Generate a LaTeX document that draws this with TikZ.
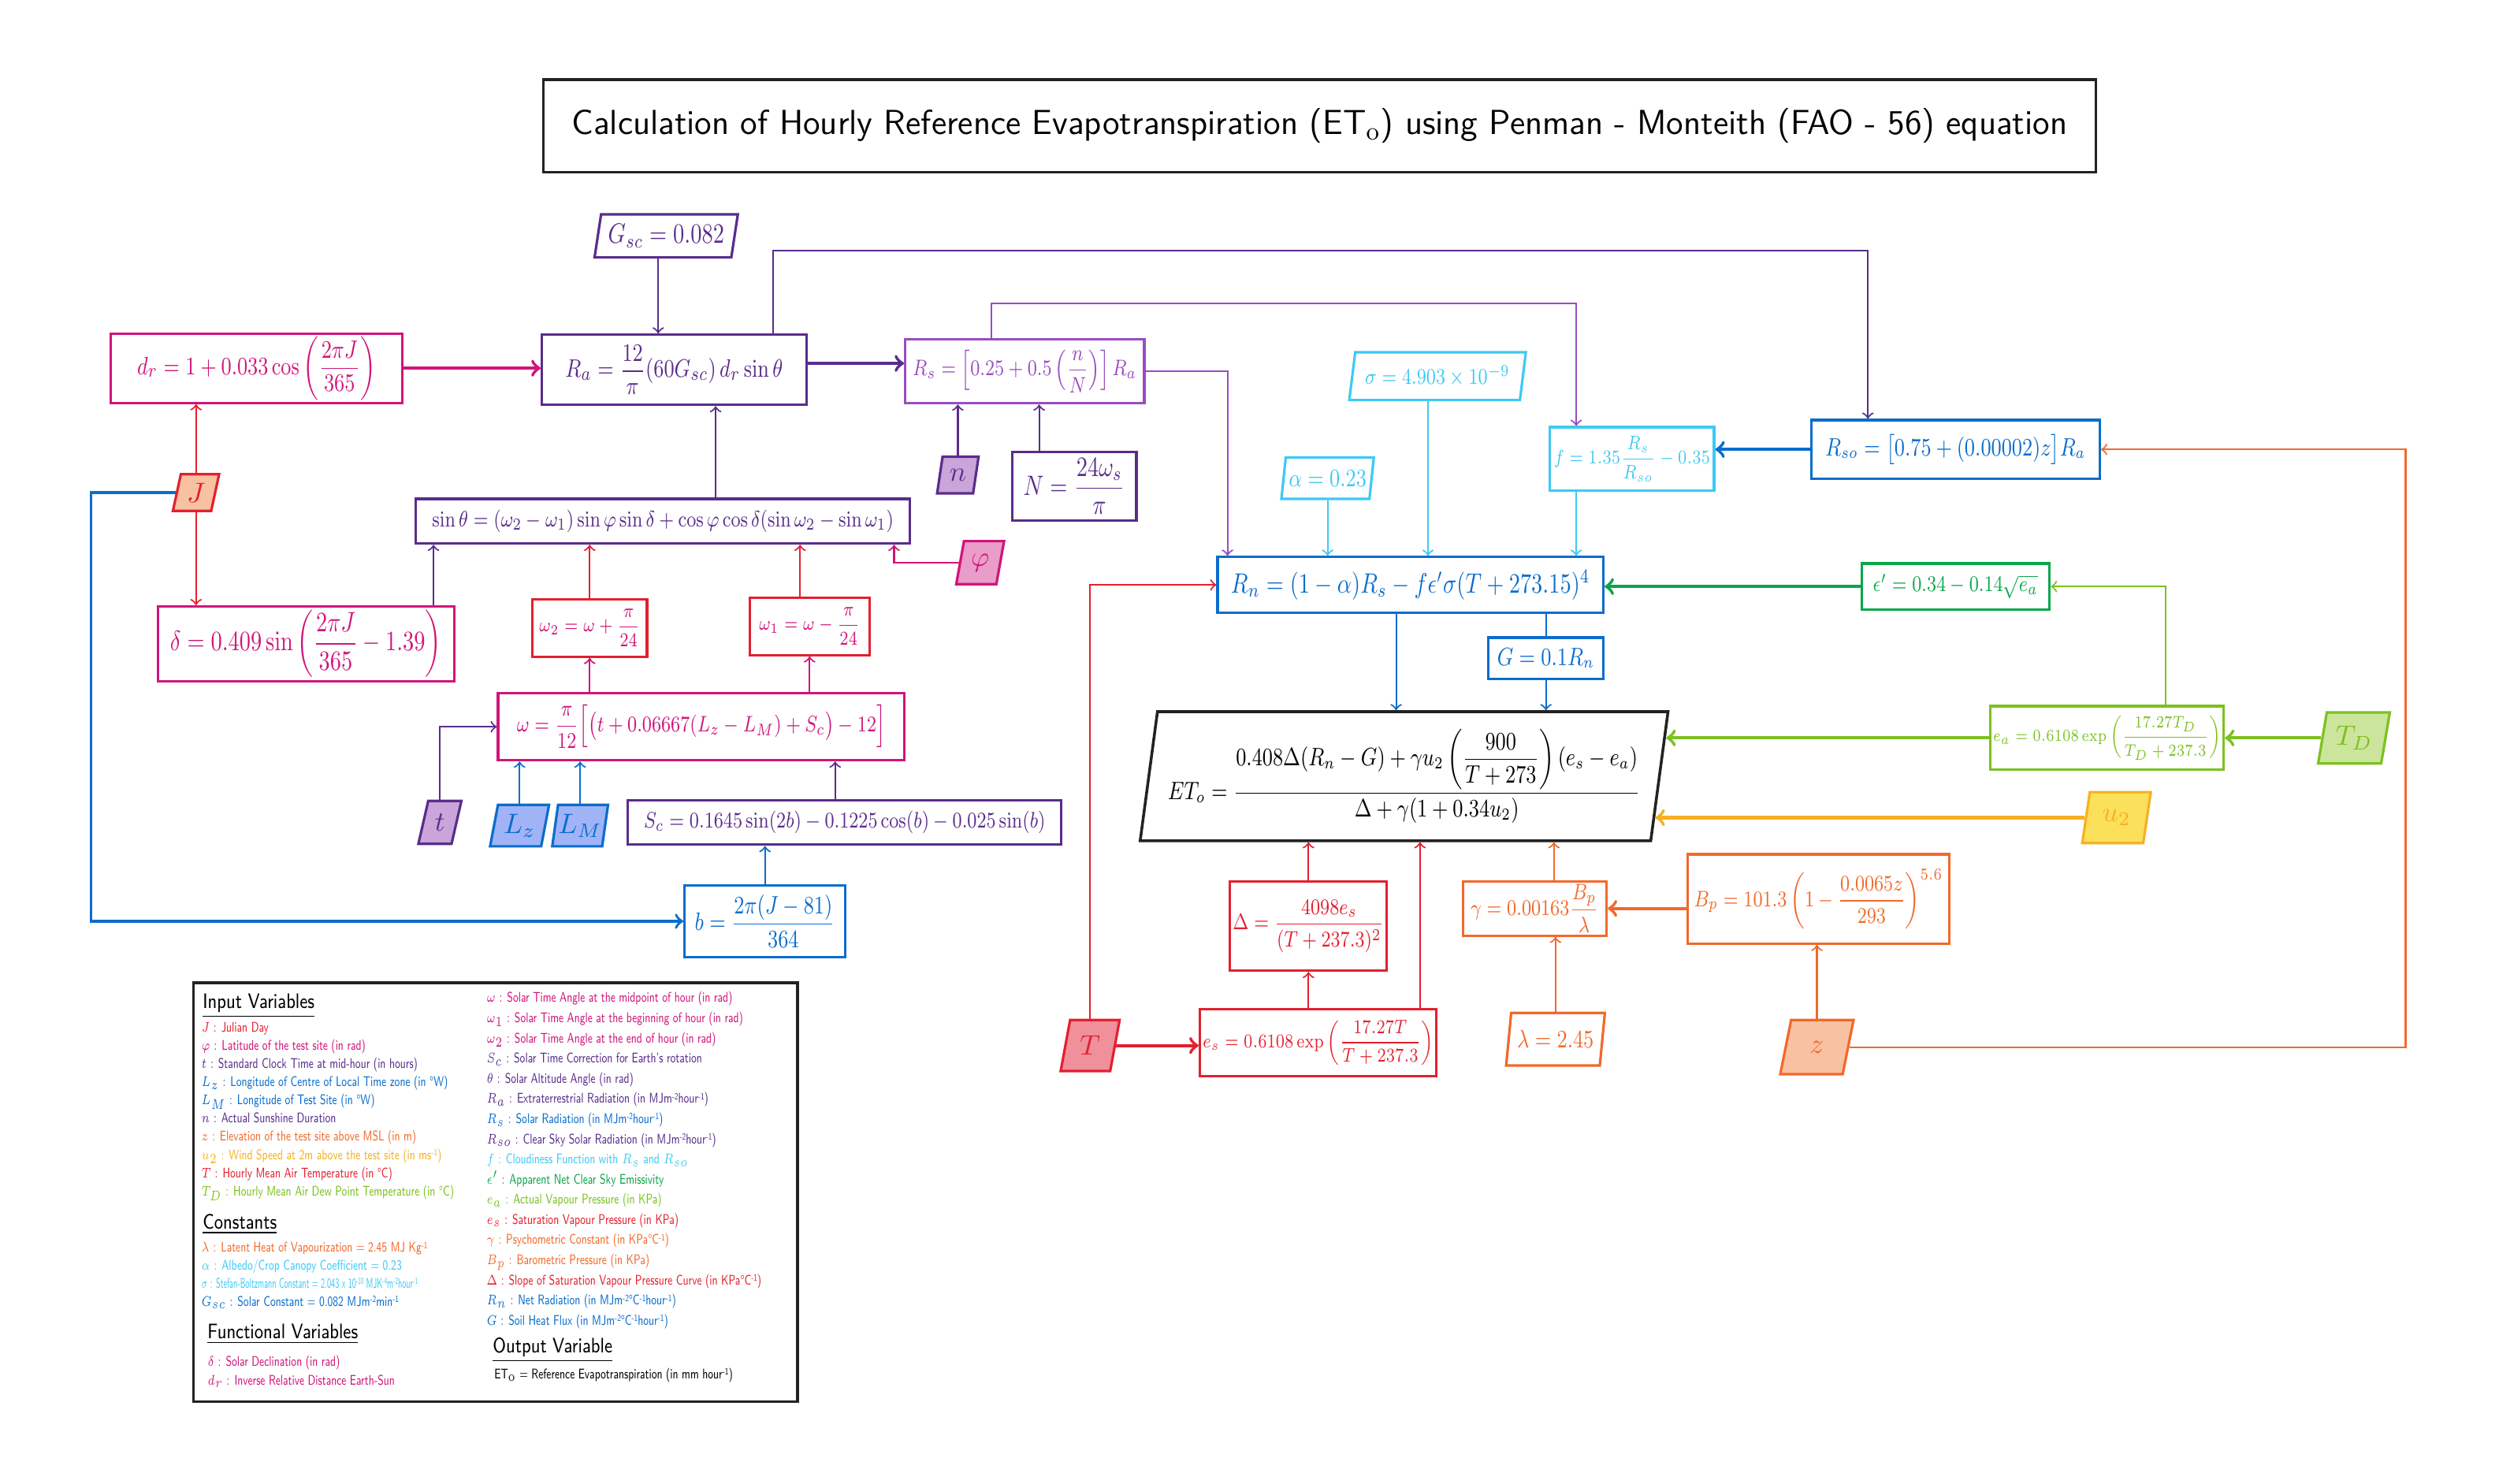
\documentclass[tikz,border=0pt]{standalone}
\usepackage{amsmath}
\usepackage{amssymb}
\usepackage{graphicx}
\usetikzlibrary{shapes.geometric,positioning}

\renewcommand{\familydefault}{\sfdefault}
\newcommand{\cond}[1]{\scalebox{0.8}[1]{#1}}
\newcommand{\pw}[1]{\raisebox{1.3pt}{\fontsize{3.4}{3.4}\selectfont #1}}

\definecolor{ink}{HTML}{222222}
\definecolor{crim}{HTML}{D0157A}
\definecolor{redd}{HTML}{E3202F}
\definecolor{purd}{HTML}{5A2D8C}
\definecolor{purm}{HTML}{9A4CC2}
\definecolor{purl}{HTML}{C9A5D9}
\definecolor{blu}{HTML}{0A6DCC}
\definecolor{blul}{HTML}{A1B3F7}
\definecolor{cyn}{HTML}{3EC9F4}
\definecolor{grn}{HTML}{0BA64A}
\definecolor{lim}{HTML}{7CC11F}
\definecolor{liml}{HTML}{CCE59D}
\definecolor{yel}{HTML}{F6B022}
\definecolor{yell}{HTML}{FBE05B}
\definecolor{orn}{HTML}{F2692B}
\definecolor{peach}{HTML}{F8C1A2}
\definecolor{pinkl}{HTML}{E99DC8}
\definecolor{redl}{HTML}{F0909B}

\begin{document}
\begin{tikzpicture}[x=0.02cm,y=-0.02cm,>=to,
  eq/.style={draw=#1,text=#1,rectangle,line width=0.9pt,fill=white,align=center,inner sep=1pt},
  var/.style 2 args={trapezium,trapezium left angle=76,trapezium right angle=104,trapezium stretches=true,
    draw=#1,text=#1,fill=#2,line width=0.9pt,inner sep=0pt,font=\normalsize},
  sz/.style 2 args={minimum width=#1*0.02cm,minimum height=#2*0.02cm},
  fs/.style={font=\fontsize{#1}{#1}\selectfont},
  wire/.style={->,line width=0.6pt},
  bus/.style={->,line width=1.2pt},
  leghead/.style={anchor=west,inner sep=0pt,xscale=0.8,font=\fontsize{7.5}{9}\selectfont},
  legtxt/.style={anchor=north west,align=left,inner sep=0pt,xscale=0.72,font=\fontsize{5}{#1}\selectfont}]
\useasboundingbox (0,0) rectangle (1568,931);

% title
\node[draw=ink,line width=1pt,sz={974}{58},fs=12.4] (title) at (828,79)
  {Calculation of Hourly Reference Evapotranspiration (ET$_\mathrm{o}$) using Penman - Monteith (FAO - 56) equation};

% radiation side
\node[var={purd}{white},sz={90}{27},fs=10] (gsc) at (418,148) {\cond{$G_{sc}=0.082$}};
\node[eq=crim,sz={183}{42},fs=9.5] (dr) at (161,231) {\cond{$d_r=1+0.033\cos\left(\dfrac{2\pi J}{365}\right)$}};
\node[eq=purd,sz={166}{44},fs=9.5] (ra) at (423,232) {\cond{$R_a=\dfrac{12}{\pi}(60G_{sc})\,d_r\sin\theta$}};
\node[eq=purm,sz={150}{40},fs=8] (rs) at (643,233) {\cond{$R_s=\left[0.25+0.5\left(\dfrac{n}{N}\right)\right]R_a$}};
\node[var={purd}{purl},sz={26}{23}] (nin) at (601,298) {$n$};
\node[eq=purd,sz={78}{43},fs=10] (nn) at (674,305) {\cond{$N=\dfrac{24\omega_s}{\pi}$}};
\node[var={redd}{peach},sz={29}{23}] (jin) at (123,309) {$J$};
\node[eq=purd,sz={310}{28},fs=8] (sinth) at (416,327)
  {\cond{$\sin\theta=(\omega_2-\omega_1)\sin\varphi\sin\delta+\cos\varphi\cos\delta(\sin\omega_2-\sin\omega_1)$}};
\node[var={crim}{pinkl},sz={30}{27}] (phin) at (615,353) {$\varphi$};
\node[eq=crim,sz={186}{47},fs=10] (delta) at (192,404) {\cond{$\delta=0.409\sin\left(\dfrac{2\pi J}{365}-1.39\right)$}};
\node[eq=redd,text=crim,sz={72}{36},fs=7.5] (om2) at (370,394) {\cond{$\omega_2=\omega+\dfrac{\pi}{24}$}};
\node[eq=redd,text=crim,sz={75}{36},fs=7.5] (om1) at (508,393) {\cond{$\omega_1=\omega-\dfrac{\pi}{24}$}};
\node[eq=crim,sz={255}{42},fs=8.5] (om) at (440,456)
  {\cond{$\omega=\dfrac{\pi}{12}\Bigl[\bigl(t+0.06667(L_z-L_M)+S_c\bigr)-12\Bigr]$}};
\node[var={purd}{purl},sz={27}{27}] (tin) at (276,516) {$t$};
\node[var={blu}{blul},sz={37}{26}] (lzin) at (326,518) {$L_z$};
\node[var={blu}{blul},sz={35}{26}] (lmin) at (364,518) {$L_M$};
\node[eq=purd,sz={272}{28},fs=8.3] (sc) at (530,516) {\cond{$S_c=0.1645\sin(2b)-0.1225\cos(b)-0.025\sin(b)$}};
\node[eq=blu,sz={101}{45},fs=9.5] (bb) at (480,578) {\cond{$b=\dfrac{2\pi(J-81)}{364}$}};

% net radiation side
\node[var={cyn}{white},sz={111}{30},fs=8.5] (sig) at (902,236) {\cond{$\sigma=4.903\times10^{-9}$}};
\node[var={cyn}{white},sz={58}{26},fs=9] (alp) at (833,300) {\cond{$\alpha=0.23$}};
\node[eq=cyn,sz={103}{40},fs=7.4] (ff) at (1024,288) {\cond{$f=1.35\dfrac{R_s}{R_{so}}-0.35$}};
\node[eq=blu,sz={181}{37},fs=9] (rso) at (1227,282) {\cond{$R_{so}=\bigl[0.75+(0.00002)z\bigr]R_a$}};
\node[eq=blu,sz={242}{35},fs=10] (rn) at (885,367) {\cond{$R_n=(1-\alpha)R_s-f\epsilon'\sigma(T+273.15)^4$}};
\node[eq=grn,sz={118}{29},fs=8.5] (eps) at (1227,368) {\cond{$\epsilon'=0.34-0.14\sqrt{e_a}$}};
\node[eq=blu,sz={72}{26},fs=9] (gg) at (970,413) {\cond{$G=0.1R_n$}};
\node[trapezium,trapezium left angle=80,trapezium right angle=100,trapezium stretches=true,
  draw=ink,line width=1pt,fill=white,sz={332}{81},inner sep=0pt,fs=9] (et) at (881,487)
  {\cond{$ET_o=\dfrac{0.408\Delta(R_n-G)+\gamma u_2\left(\dfrac{900}{T+273}\right)(e_s-e_a)}{\Delta+\gamma(1+0.34u_2)}$}};
\node[eq=lim,sz={141}{40},fs=6.3] (ea) at (1322,463) {\cond{$e_a=0.6108\exp\left(\dfrac{17.27T_D}{T_D+237.3}\right)$}};
\node[var={lim}{liml},sz={45}{32}] (td) at (1477,463) {$T_D$};
\node[var={yel}{yell},sz={43}{32}] (u2) at (1328,513) {$u_2$};
\node[eq=redd,sz={98}{56},fs=8] (dd) at (821,581) {\cond{$\Delta=\dfrac{4098e_s}{(T+237.3)^2}$}};
\node[eq=orn,sz={90}{34},fs=8] (gam) at (963,570) {\cond{$\gamma=0.00163\dfrac{B_p}{\lambda}$}};
\node[eq=orn,sz={164}{56},fs=8.4] (bp) at (1141,564) {\cond{$B_p=101.3\left(1-\dfrac{0.0065z}{293}\right)^{5.6}$}};
\node[var={redd}{redl},sz={37}{32}] (tt) at (684,656) {$T$};
\node[eq=redd,sz={140}{42},fs=6.6] (es) at (827,654) {\cond{$e_s=0.6108\exp\left(\dfrac{17.27T}{T+237.3}\right)$}};
\node[var={orn}{white},sz={62}{33},fs=9] (lam) at (976,652) {\cond{$\lambda=2.45$}};
\node[var={orn}{peach},sz={46}{34}] (zz) at (1140,657) {$z$};

% connectors, left
\draw[wire,purd] ([xshift=-0.1cm]gsc.south) -- ([xshift=-0.1cm]gsc.south |- ra.north);
\draw[bus,crim] (dr.east) -- (dr.east -| ra.west);
\draw[wire,purd] ([xshift=1.24cm]ra.north) -- ++(0,-52) -| ([xshift=-1.1cm]rso.north);
\draw[bus,purd] ([yshift=0.08cm]ra.east) -- ([yshift=0.08cm]ra.east -| rs.west);
\draw[wire,purm] ([xshift=-0.42cm]rs.north) -- ++(0,-22) -| ([xshift=-0.7cm]ff.north);
\draw[wire,purm] (rs.east) -| ([xshift=0.14cm]rn.north west);
\draw[wire,purd] (nin.north) -- (nin.north |- rs.south);
\draw[wire,purd] ([xshift=-0.44cm]nn.north) -- ([xshift=-0.44cm]nn.north |- rs.south);
\draw[wire,redd] (jin.north) -- (jin.north |- dr.south);
\draw[wire,redd] (jin.south) -- (jin.south |- delta.north);
\draw[->,line width=1pt,blu] (jin.west) -- ++(-53,0) |- (bb.west);
\draw[wire,purd] ([xshift=0.66cm]sinth.north) -- ([xshift=0.66cm]sinth.north |- ra.south);
\draw[wire,crim] (phin.west) -| ([xshift=2.9cm]sinth.south);
\draw[wire,purd] ([xshift=1.6cm]delta.north) -- ([xshift=1.6cm]delta.north |- sinth.south);
\draw[wire,redd] (om2.north) -- (om2.north |- sinth.south);
\draw[wire,redd] ([xshift=-0.12cm]om1.north) -- ([xshift=-0.12cm]om1.north |- sinth.south);
\draw[wire,crim] (om2.south |- om.north) -- (om2.south);
\draw[wire,crim] (om1.south |- om.north) -- (om1.south);
\draw[wire,purd] (tin.north) |- (om.west);
\draw[wire,blu] (lzin.north) -- (lzin.north |- om.south);
\draw[wire,blu] (lmin.north) -- (lmin.north |- om.south);
\draw[wire,purd] ([xshift=-0.12cm]sc.north) -- ([xshift=-0.12cm]sc.north |- om.south);
\draw[wire,blu] (bb.north) -- (bb.north |- sc.south);

% connectors, right
\draw[wire,cyn] ([xshift=-0.12cm]sig.south) -- ([xshift=-0.12cm]sig.south |- rn.north);
\draw[wire,cyn] (alp.south) -- (alp.south |- rn.north);
\draw[wire,cyn] ([xshift=-0.7cm]ff.south) -- ([xshift=-0.7cm]ff.south |- rn.north);
\draw[bus,blu] (rso.west) -- (rso.west -| ff.east);
\draw[wire,orn] (zz.east) -- ++(349,0) |- (rso.east);
\draw[bus,grn] (eps.west) -- (eps.west -| rn.east);
\draw[wire,lim] ([xshift=0.74cm]ea.north) |- (eps.east);
\draw[line width=0.6pt,blu] (gg.north |- rn.south) -- (gg.north);
\draw[wire,blu] (gg.south) -- (gg.south |- et.north);
\draw[wire,blu] ([xshift=-0.18cm]rn.south) -- ([xshift=-0.18cm]rn.south |- et.north);
\draw[bus,lim] (ea.west) -- (ea.west -| et.9);
\draw[bus,lim] (td.west) -- (td.west -| ea.east);
\draw[bus,yel] (u2.west) -- (u2.west -| et.-9);
\draw[wire,redd] (dd.north) -- (dd.north |- et.south);
\draw[wire,orn] ([xshift=0.24cm]gam.north) -- ([xshift=0.24cm]gam.north |- et.south);
\draw[bus,orn] (gam.east -| bp.west) -- (gam.east);
\draw[wire,redd] (tt.north) |- (rn.west);
\draw[bus,redd] (tt.east) -- (tt.east -| es.west);
\draw[wire,redd] (dd.south |- es.north) -- (dd.south);
\draw[wire,redd] ([xshift=1.28cm]es.north) -- ([xshift=1.28cm]es.north |- et.south);
\draw[wire,orn] (lam.north) -- (lam.north |- gam.south);
\draw[wire,orn] (zz.north) -- (zz.north |- bp.south);

% legend
\node[draw=ink,line width=1pt,sz={379}{263}] (legbox) at (311,748) {};
\node[leghead] (inhead) at (127,631) {\underline{Input Variables}};
\node[legtxt=6.5] (inlist) at (126,641) {%
  \textcolor{redd}{$J$ : Julian Day}\\
  \textcolor{crim}{$\varphi$ : Latitude of the test site (in rad)}\\
  \textcolor{purd}{$t$ : Standard Clock Time at mid-hour (in hours)}\\
  \textcolor{blu}{$L_z$ : Longitude of Centre of Local Time zone (in \textdegree W)}\\
  \textcolor{blu}{$L_M$ : Longitude of Test Site (in \textdegree W)}\\
  \textcolor{purd}{$n$ : Actual Sunshine Duration}\\
  \textcolor{orn}{$z$ : Elevation of the test site above MSL (in m)}\\
  \textcolor{yel}{$u_2$ : Wind Speed at 2m above the test site (in ms\pw{-1})}\\
  \textcolor{redd}{$T$ : Hourly Mean Air Temperature (in \textdegree C)}\\
  \textcolor{lim}{$T_D$ : Hourly Mean Air Dew Point Temperature (in \textdegree C)}};
\node[leghead] (conhead) at (127,768) {\underline{Constants}};
\node[legtxt=6.4] (conlist) at (126,779) {%
  \textcolor{orn}{$\lambda$ : Latent Heat of Vapourization = 2.45 MJ Kg\pw{-1}}\\
  \textcolor{cyn}{$\alpha$ : Albedo/Crop Canopy Coefficient = 0.23}\\
  \textcolor{cyn}{\scalebox{0.75}[1]{$\sigma$ : Stefan-Boltzmann Constant = 2.043 x 10\pw{-10} MJK\pw{-4}m\pw{-2}hour\pw{-1}}}\\
  \textcolor{blu}{$G_{sc}$ : Solar Constant = 0.082 MJm\pw{-2}min\pw{-1}}};
\node[leghead] (funhead) at (130,837) {\underline{Functional Variables}};
\node[legtxt=6.8] (funlist) at (130,850) {%
  \textcolor{crim}{$\delta$ : Solar Declination (in rad)}\\
  \textcolor{crim}{$d_r$ : Inverse Relative Distance Earth-Sun}};
\node[legtxt=7.2] (anglist) at (305,622) {%
  \textcolor{crim}{$\omega$ : Solar Time Angle at the midpoint of hour (in rad)}\\
  \textcolor{crim}{$\omega_1$ : Solar Time Angle at the beginning of hour (in rad)}\\
  \textcolor{crim}{$\omega_2$ : Solar Time Angle at the end of hour (in rad)}\\
  \textcolor{purd}{$S_c$ : Solar Time Correction for Earth's rotation}\\
  \textcolor{purd}{$\theta$ : Solar Altitude Angle (in rad)}\\
  \textcolor{purd}{$R_a$ : Extraterrestrial Radiation (in MJm\pw{-2}hour\pw{-1})}\\
  \textcolor{blu}{$R_s$ : Solar Radiation (in MJm\pw{-2}hour\pw{-1})}\\
  \textcolor{purd}{$R_{so}$ : Clear Sky Solar Radiation (in MJm\pw{-2}hour\pw{-1})}\\
  \textcolor{cyn}{$f$ : Cloudiness Function with $R_s$ and $R_{so}$}\\
  \textcolor{grn}{$\epsilon'$ : Apparent Net Clear Sky Emissivity}\\
  \textcolor{lim}{$e_a$ : Actual Vapour Pressure (in KPa)}\\
  \textcolor{redd}{$e_s$ : Saturation Vapour Pressure (in KPa)}\\
  \textcolor{orn}{$\gamma$ : Psychometric Constant (in KPa\textdegree C\pw{-1})}\\
  \textcolor{orn}{$B_p$ : Barometric Pressure (in KPa)}\\
  \textcolor{redd}{$\Delta$ : Slope of Saturation Vapour Pressure Curve (in KPa\textdegree C\pw{-1})}\\
  \textcolor{blu}{$R_n$ : Net Radiation (in MJm\pw{-2}\textdegree C\pw{-1}hour\pw{-1})}\\
  \textcolor{blu}{$G$ : Soil Heat Flux (in MJm\pw{-2}\textdegree C\pw{-1}hour\pw{-1})}};
\node[leghead] (outhead) at (309,847) {\underline{Output Variable}};
\node[legtxt=6.5] (outlist) at (310,858) {ET$_\mathrm{o}$ = Reference Evapotranspiration (in mm hour\pw{-1})};
\end{tikzpicture}
\end{document}
